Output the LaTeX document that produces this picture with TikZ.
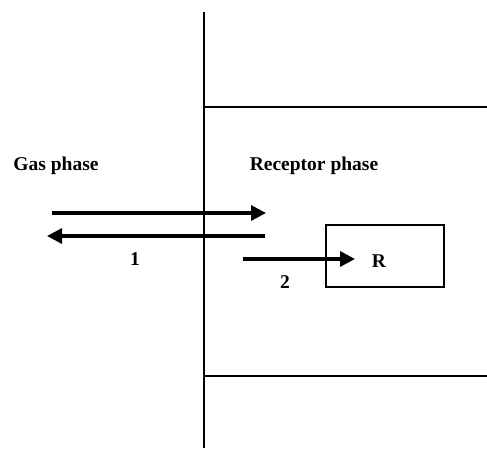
\documentclass[tikz,border=0pt]{standalone}
\usepackage{fontspec}
\setmainfont{Liberation Serif}
\usetikzlibrary{arrows.meta}
\usetikzlibrary{positioning}

\tikzset{
  lbl/.style={font=\fontsize{19.5}{22}\selectfont\bfseries,text=black,anchor=center,inner sep=0pt},
  flux/.style={black,line width=3.2pt,-{Triangle[length=15pt,width=15pt]}},
  wall/.style={black,line width=1.2pt}
}

\begin{document}
\begin{tikzpicture}[x=1pt,y=-1pt]
\useasboundingbox (0,0) rectangle (487,448);
% interface and receptor layer
\coordinate (top) at (204,12);
\coordinate (bot) at (204,448);
\draw[wall] (top) -- (bot);
\draw[wall] (204,107) -- (487,107);
\draw[wall] (204,376) -- (487,376);

\node[lbl] (gas) at (56,166) {Gas phase};
\node[lbl] (rec) at (314,166) {Receptor phase};

% site box
\node[draw,wall,rectangle,minimum width=118pt,minimum height=62pt,inner sep=0pt] (site) at (385,256) {};
\node[lbl] (R) at (379,261) {R};

% exchange 1
\coordinate (a1) at (52,213);
\coordinate (b1) at (266,213);
\coordinate (a2) at (265,236);
\coordinate (b2) at (47,236);
\draw[flux] (a1) -- (b1);
\draw[flux] (a2) -- (b2);
\node[lbl] (one) at (135,259) {1};

% binding 2
\coordinate (a3) at (243,259);
\coordinate (b3) at (355,259);
\draw[flux] (a3) -- (b3);
\node[lbl] (two) at (285,282) {2};

\end{tikzpicture}
\end{document}
